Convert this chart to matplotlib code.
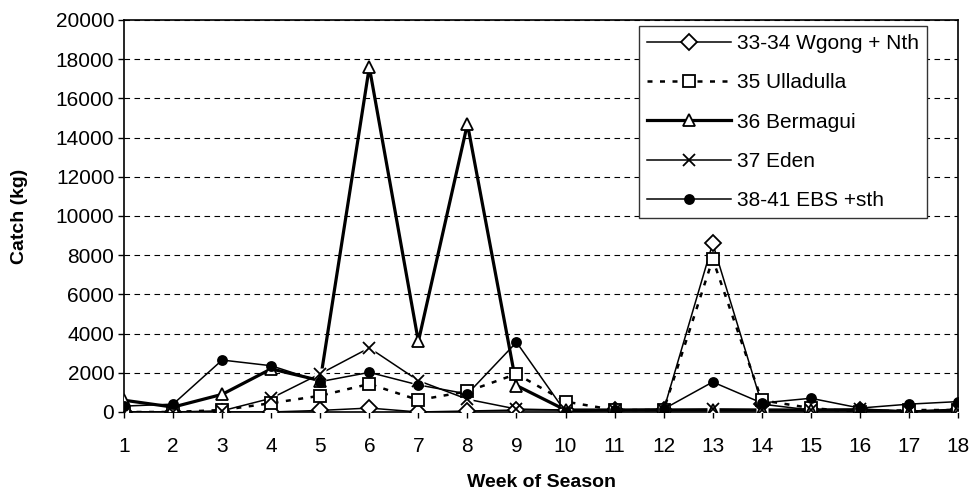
import numpy as np
import matplotlib.pyplot as plt
from matplotlib.lines import Line2D

plt.rcParams['font.family'] = ['Liberation Sans', 'DejaVu Sans']

# semanas e capturas (kg)
weeks = list(range(1, 19))
wgong = [0, 0, 0, 0, 80, 200, 0, 50, 100, 100, 100, 100, 8600, 400, 100, 100, 0, 100]
ulladulla = [0, 0, 100, 450, 830, 1430, 610, 1050, 1940, 530, 100, 100, 7800, 600, 200, 0, 100, 100]
bermagui = [600, 250, 900, 2200, 1600, 17600, 3600, 14700, 1350, 100, 100, 100, 100, 100, 100, 100, 0, 100]
eden = [0, 0, 60, 700, 1950, 3270, 1600, 650, 150, 100, 120, 120, 150, 120, 120, 150, 50, 100]
ebs = [300, 400, 2650, 2360, 1550, 2020, 1380, 920, 3560, 0, 100, 150, 1530, 460, 700, 200, 400, 530]

labels = ["33-34 Wgong + Nth", "35 Ulladulla", "36 Bermagui", "37 Eden", "38-41 EBS +sth"]
series = [wgong, ulladulla, bermagui, eden, ebs]

# estilo de cada serie: linha, largura, marcador, tamanho, preenchimento
styles = [
    ('-', 1.1, 'D', 8, 'white'),
    ((0, (2, 3)), 1.8, 's', 9, 'white'),
    ('-', 2.3, '^', 9, 'white'),
    ('-', 1.1, 'x', 9, 'none'),
    ('-', 1.1, 'o', 6.5, 'black'),
]

fig = plt.figure(figsize=(9.72, 4.95), dpi=100)
ax = fig.add_axes([0.1276, 0.1677, 0.8580, 0.7919])

handles = []
for vals, lab, (ls, lw, mk, ms, fc) in zip(series, labels, styles):
    ax.plot(weeks, vals, linestyle=ls, linewidth=lw, color='black', zorder=2)
    if mk == 'x':
        # fundo branco atras do X, como no Excel
        ax.plot(weeks, vals, linestyle='none', marker='s', markersize=ms * 0.9,
                markerfacecolor='white', markeredgecolor='none', zorder=2.9)
    ax.plot(weeks, vals, linestyle='none', marker=mk, markersize=ms,
            markerfacecolor=fc, markeredgecolor='black', markeredgewidth=1.3, zorder=3)
    handles.append(Line2D([], [], linestyle=ls, linewidth=lw, color='black',
                          marker=mk, markersize=ms, markerfacecolor=fc,
                          markeredgecolor='black', markeredgewidth=1.3))

ax.set_xlim(1, 18)
ax.set_ylim(0, 20000)
ax.set_xticks(weeks)
ax.set_yticks(np.arange(0, 20001, 2000))
ax.yaxis.grid(True, linestyle=(0, (5, 4)), color='black', linewidth=0.8)
ax.set_axisbelow(True)

for s in ax.spines.values():
    s.set_linewidth(1.2)

ax.tick_params(axis='both', labelsize=15, length=4, width=1, direction='out')
ax.tick_params(axis='x', pad=14)
ax.tick_params(axis='y', pad=3)

ax.set_xlabel("Week of Season", fontsize=14, fontweight='bold', labelpad=13)
ax.set_ylabel("Catch (kg)", fontsize=14, fontweight='bold', labelpad=20)

leg = ax.legend(handles, labels, loc='upper right', bbox_to_anchor=(0.963, 0.985),
                fontsize=15, handlelength=4.0, handletextpad=0.3, labelspacing=0.97,
                borderpad=0.4, borderaxespad=0, fancybox=False, framealpha=1)
leg.get_frame().set_edgecolor('#333333')
leg.get_frame().set_linewidth(1)

plt.savefig("out.png", dpi=100)
